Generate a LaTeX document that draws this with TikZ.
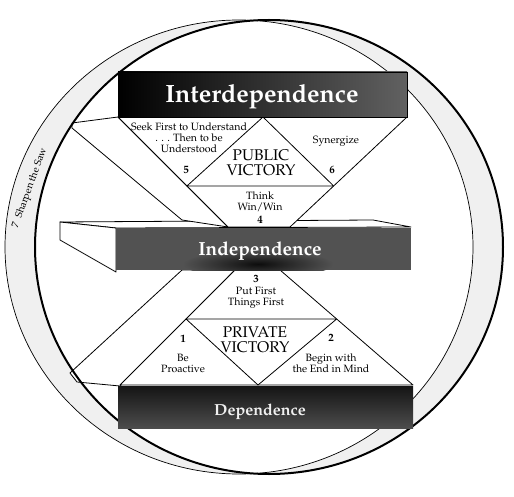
\documentclass[tikz,border=0pt]{standalone}
\usepackage[T1]{fontenc}
\usepackage{mathpazo}
\usetikzlibrary{calc}

\begin{document}
\begin{tikzpicture}[x=1pt,y=-1pt,
  line/.style={line width=0.8pt, line join=round},
  face/.style={line, fill=white},
  habit/.style={font=\fontsize{10.6}{11}\selectfont, align=center, inner sep=0pt},
  num/.style={font=\fontsize{11}{12}\selectfont\bfseries, inner sep=0pt},
  victory/.style={font=\fontsize{15.5}{15}\selectfont, align=center, inner sep=0pt},
  title/.style={text=white, font=\bfseries, anchor=base, inner sep=0pt}]
  \useasboundingbox (0,0) rectangle (514,497);

  % Sharpen the saw ring
  \fill[black!6, even odd rule] (239,247) ellipse [x radius=234, y radius=227]
    (269,247) ellipse [x radius=234, y radius=227];
  \node[rotate=70, font=\fontsize{10}{10}\selectfont, inner sep=0pt] (saw) at (30,188) {7\enspace Sharpen the Saw};

  % Independence box, top and end faces
  \draw[face] (60,222) -- (373,220) -- (411,227) -- (116,228) -- cycle;
  \draw[face] (60,222) -- (116,228) -- (116,272) -- (60,240) -- cycle;

  % Wings
  \draw[face] (118,117) -- (72,123) -- (72,128) -- (182,220) -- (228,227) -- cycle;
  \draw[face] (182,270) -- (235,270) -- (120,386) -- (77,382) -- (70,373) -- cycle;

  % Public victory
  \coordinate (ul) at (118,117);
  \coordinate (ur) at (407,117);
  \coordinate (ubl) at (228,227);
  \coordinate (ubr) at (290,227);
  \coordinate (utop) at (263,117);
  \coordinate (uleft) at ($(ul)!0.627!(ubl)$);
  \coordinate (uright) at ($(ur)!0.627!(ubr)$);
  \draw[face] (ul) -- (ur) -- (ubr) -- (ubl) -- cycle;
  \draw[line] (uleft) -- (utop) -- (uright) -- cycle;

  % Private victory
  \coordinate (ltl) at (235,270);
  \coordinate (ltr) at (280,270);
  \coordinate (ll) at (120,385);
  \coordinate (lr) at (413,385);
  \coordinate (lbot) at (258,385);
  \coordinate (lleft) at ($(ltl)!0.426!(ll)$);
  \coordinate (lright) at ($(ltr)!0.426!(lr)$);
  \draw[face] (ltl) -- (ltr) -- (lr) -- (ll) -- cycle;
  \draw[line] (lleft) -- (lright) -- (lbot) -- cycle;

  % Rings
  \draw[line width=0.7pt] (239,247) ellipse [x radius=234, y radius=227];
  \draw[line width=2pt] (269,247) ellipse [x radius=234, y radius=227];

  % Bars
  \shade[left color=black, middle color=black!92, right color=black!62] (118,72) rectangle (407,117);
  \draw[line width=0.4pt] (118,72) rectangle (407,117);
  \fill[black!68] (116,228) rectangle (411,270);
  \begin{scope}
    \clip (116,228) rectangle (411,270);
    \shade[inner color=black!95, outer color=black!68] (258,264) ellipse [x radius=75, y radius=14];
  \end{scope}
  \shade[top color=black!92, bottom color=black!70] (118,386) rectangle (413,428);
  \node[title, font=\fontsize{25}{25}\selectfont\bfseries] (inter) at (262,103) {Interdependence};
  \node[title, font=\fontsize{19}{19}\selectfont\bfseries] (indep) at (260,255) {Independence};
  \node[title, font=\fontsize{16}{16}\selectfont\bfseries, text=black!6] (dep) at (260,415) {Dependence};

  % Habits
  \node[habit] (h5) at (189,138) {Seek First to Understand\\. . . Then to be\\Understood};
  \node[num] (n5) at (186,170) {5};
  \node[victory] (pub) at (261,163) {PUBLIC\\VICTORY};
  \node[habit] (h6) at (336,141) {Synergize};
  \node[num] (n6) at (332,170) {6};
  \node[habit] (h4) at (260,202) {Think\\Win/Win};
  \node[num] (n4) at (260,220) {4};
  \node[num] (n3) at (256,279) {3};
  \node[habit] (h3) at (256,298) {Put First\\Things First};
  \node[victory] (priv) at (255,340) {PRIVATE\\VICTORY};
  \node[num] (n1) at (183,339) {1};
  \node[habit] (h1) at (183,363) {Be\\Proactive};
  \node[num] (n2) at (331,338) {2};
  \node[habit] (h2) at (331,363) {Begin with\\the End in Mind};
\end{tikzpicture}
\end{document}
